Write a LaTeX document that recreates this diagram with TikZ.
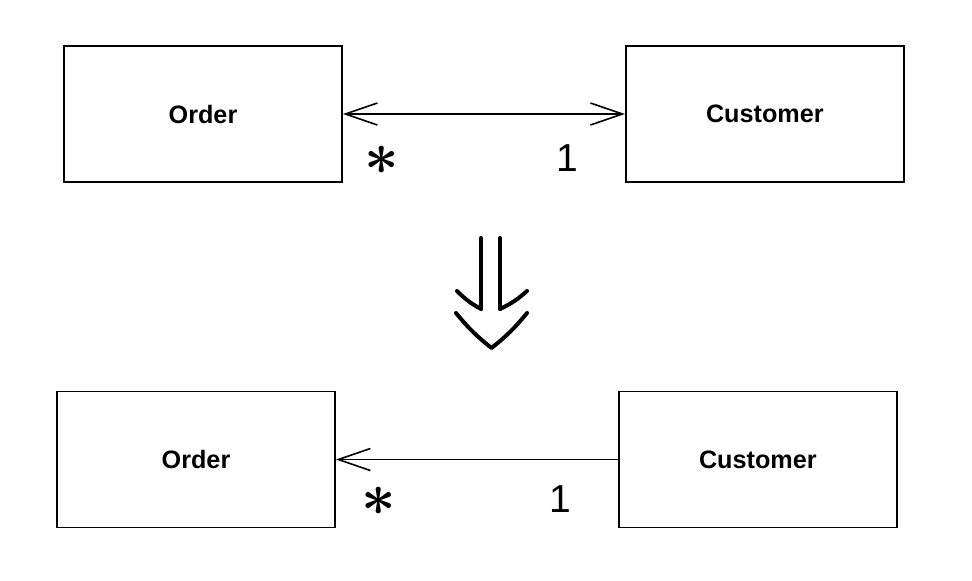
\documentclass[tikz,border=0pt]{standalone}
\usepackage{fontspec}
\setsansfont{Liberation Sans}
\usepackage{tikz}
\usetikzlibrary{positioning,arrows.meta}

\begin{document}
\begin{tikzpicture}[
    x=0.5pt, y=-0.5pt,
    font=\sffamily,
    cls/.style={draw, line width=0.9pt, minimum width=139pt, minimum height=68pt,
                inner sep=0pt, font=\sffamily\bfseries\fontsize{12.6}{14}\selectfont},
    mult/.style={inner sep=0pt, font=\sffamily\fontsize{19.5}{22}\selectfont},
    star/.style={inner sep=0pt, scale=3, font=\boldmath},
    assoc/.style={line width=0.8pt, {Straight Barb[length=16pt, width=11pt]}-{Straight Barb[length=16pt, width=11pt]}},
    nav/.style={line width=0.8pt, -{Straight Barb[length=16pt, width=11pt]}},
    dbl/.style={line width=2pt, line cap=round, line join=round}
]
\useasboundingbox (0,0) rectangle (972,580);
% before
\node[cls] (order1) at (203,114) {Order};
\node[cls, right=141pt of order1] (cust1) {Customer};
\draw[assoc] (order1.east) -- (cust1.west);
\node[star] (many1) at (382,160) {$\ast$};
\node[mult] (one1) at (567,158) {1};
% refactoring step
\draw[dbl] (481,238) -- (481,309) (500,238) -- (500,309);
\draw[dbl] (457,291) to[bend right=8] (481,309);
\draw[dbl] (500,309) to[bend right=8] (527,291);
\draw[dbl] (456,313) to[bend right=6] (491.5,348) to[bend right=6] (527,313);
% after
\node[cls] (order2) at (196,459.5) {Order};
\node[cls, right=141pt of order2] (cust2) {Customer};
\draw[nav] (cust2.west) -- (order2.east);
\node[star] (many2) at (379,501) {$\ast$};
\node[mult] (one2) at (560,499) {1};
\end{tikzpicture}
\end{document}
